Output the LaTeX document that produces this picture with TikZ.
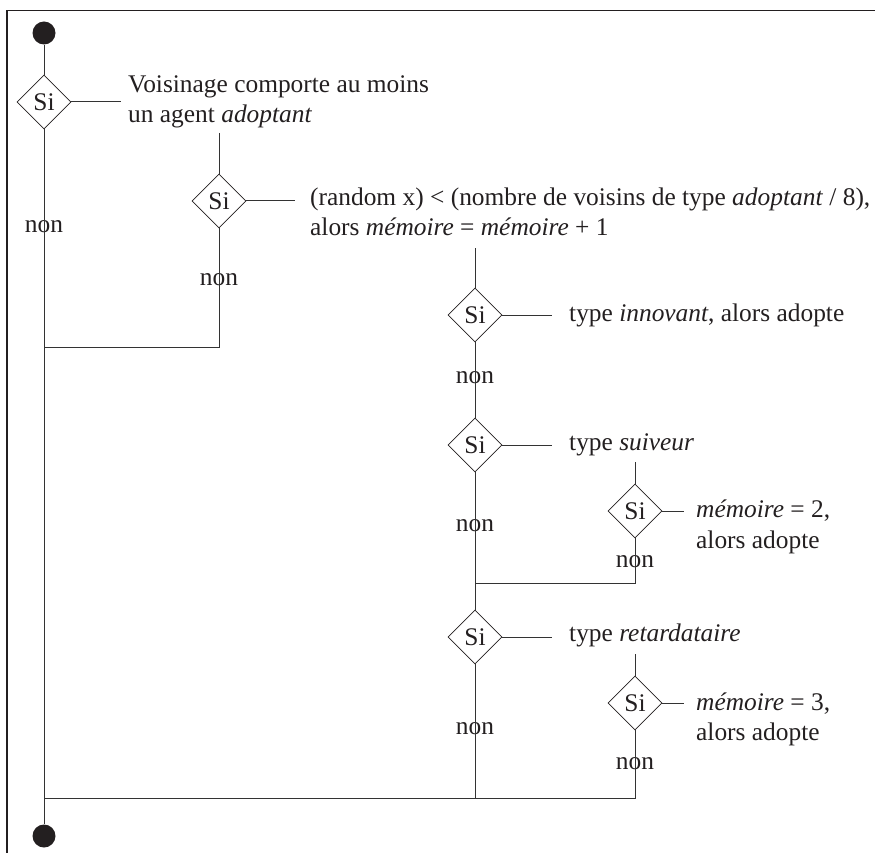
\documentclass[tikz,border=0pt]{standalone}
\usepackage{fontspec}
\setmainfont{Liberation Serif}
\usetikzlibrary{shapes.geometric}
\definecolor{ink}{HTML}{231F20}
\begin{document}
\begin{tikzpicture}[x=1pt,y=-1pt,
  every node/.style={text=ink,font=\fontsize{25.4}{30}\selectfont},
  cond/.style={diamond,draw=ink,line width=0.8pt,inner sep=0pt,minimum width=54pt,minimum height=54pt,aspect=1},
  dot/.style={circle,fill=ink,inner sep=0pt,minimum size=23pt},
  lbl/.style={anchor=base west,inner sep=0pt},
  nonlbl/.style={anchor=base,inner sep=0pt},
  conn/.style={draw=black!80,line width=1pt}]
\useasboundingbox (0,0) rectangle (875,853);
\draw[ink,line width=1.6pt] (7,853) -- (7,10.5) -- (875,10.5);
% nodes
\node[dot] (s0) at (44,33) {};
\node[cond] (d1) at (44,102) {Si};
\coordinate (c1) at (121,102);
\node[lbl] (t1a) at (128,93) {Voisinage comporte au moins};
\node[lbl] (t1b) at (128,123) {un agent \textit{adoptant}};
\coordinate (c2) at (219,133);
\node[cond] (d2) at (219,201) {Si};
\coordinate (c3) at (295,201);
\node[lbl] (t2a) at (310,205) {(random x) < (nombre de voisins de type \textit{adoptant} / 8),};
\node[lbl] (t2b) at (310,235) {alors \textit{mémoire} = \textit{mémoire} + 1};
\node[nonlbl] (n1) at (44,232) {non};
\node[nonlbl] (n2) at (219,285) {non};
\coordinate (j1a) at (219,347);
\coordinate (j1b) at (44,347);
\coordinate (c4) at (475,248);
\node[cond] (d3) at (475,315) {Si};
\coordinate (c5) at (552,315);
\node[lbl] (t3) at (569,321) {type \textit{innovant}, alors adopte};
\node[nonlbl] (n3) at (475,383) {non};
\node[cond] (d4) at (475,445) {Si};
\coordinate (c6) at (552,445);
\node[lbl] (t4) at (569,450) {type \textit{suiveur}};
\coordinate (c7) at (635,462);
\node[cond] (d5) at (635,511) {Si};
\coordinate (c8) at (684,511);
\node[lbl] (t5a) at (696,517) {\textit{mémoire} = 2,};
\node[lbl] (t5b) at (696,548) {alors adopte};
\node[nonlbl] (n4) at (475,531) {non};
\node[nonlbl] (n5) at (635,567) {non};
\coordinate (j2a) at (635,583);
\coordinate (j2b) at (475,583);
\node[cond] (d6) at (475,637) {Si};
\coordinate (c9) at (552,637);
\node[lbl] (t6) at (569,641) {type \textit{retardataire}};
\coordinate (c10) at (635,654);
\node[cond] (d7) at (635,703) {Si};
\coordinate (c11) at (684,703);
\node[lbl] (t7a) at (696,710) {\textit{mémoire} = 3,};
\node[lbl] (t7b) at (696,740) {alors adopte};
\node[nonlbl] (n6) at (475,734) {non};
\node[nonlbl] (n7) at (635,769) {non};
\coordinate (j3a) at (635,798);
\coordinate (j3b) at (475,798);
\coordinate (j3c) at (44,798);
\node[dot] (s1) at (44,836) {};
% connectors
\path[conn] (s0) -- (d1.north);
\path[conn] (d1.south) -- (s1);
\path[conn] (d1.east) -- (c1);
\path[conn] (c2) -- (d2.north);
\path[conn] (d2.east) -- (c3);
\path[conn] (d2.south) -- (j1a) -- (j1b);
\path[conn] (c4) -- (d3.north);
\path[conn] (d3.east) -- (c5);
\path[conn] (d3.south) -- (d4.north);
\path[conn] (d4.east) -- (c6);
\path[conn] (d4.south) -- (d6.north);
\path[conn] (c7) -- (d5.north);
\path[conn] (d5.east) -- (c8);
\path[conn] (d5.south) -- (j2a) -- (j2b);
\path[conn] (d6.east) -- (c9);
\path[conn] (d6.south) -- (j3b);
\path[conn] (c10) -- (d7.north);
\path[conn] (d7.east) -- (c11);
\path[conn] (d7.south) -- (j3a) -- (j3c);
\end{tikzpicture}
\end{document}
